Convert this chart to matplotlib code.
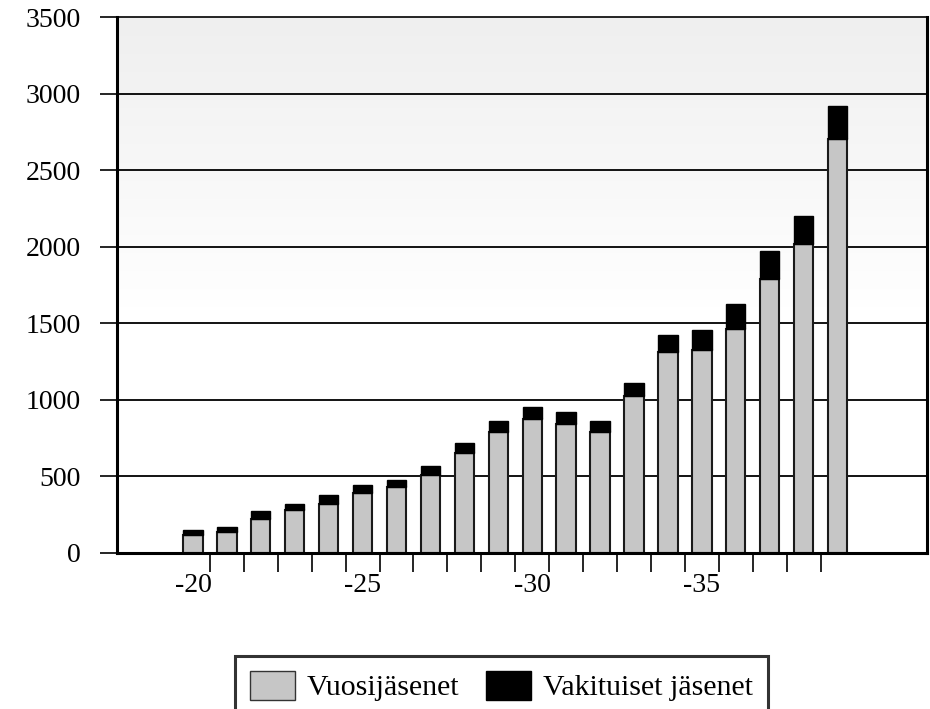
import numpy as np
import matplotlib
matplotlib.use("Agg")
import matplotlib.pyplot as plt
from matplotlib.patches import Patch

# Data (years 1920-1939)
years = list(range(20, 40))
vuosijasenet = [118, 134, 217, 278, 317, 391, 430, 508, 648, 789,
                873, 839, 791, 1026, 1313, 1321, 1460, 1789, 2017, 2701]
vakituiset = [27, 33, 54, 43, 58, 54, 48, 57, 69, 71,
              79, 78, 69, 80, 108, 131, 163, 184, 186, 217]
tick_labels = ["-20", "-25", "-30", "-35"]

plt.rcParams["font.family"] = ["Liberation Serif", "DejaVu Serif"]
plt.rcParams["font.size"] = 20

fig = plt.figure(figsize=(9.3, 7.09), dpi=100)
ax = fig.add_axes([0.1258, 0.2205, 0.8707, 0.7555])

x = np.arange(len(years))
xmin, xmax = -2.24, 21.63

# light gradient background at the top of the plot area
grad = np.linspace(0.0, 1.0, 256).reshape(-1, 1)
bg = matplotlib.colors.LinearSegmentedColormap.from_list("bg", ["#ffffff", "#efefef"])
ax.imshow(grad, extent=(xmin, xmax, 1600, 3500), aspect="auto",
          cmap=bg, zorder=0, origin="lower")

for y in range(500, 3500, 500):
    ax.axhline(y, color="black", lw=1.3, zorder=1)

ax.bar(x, vuosijasenet, width=0.57, color="#c6c6c6", edgecolor="#1a1a1a",
       linewidth=1.5, zorder=2)
ax.bar(x, vakituiset, width=0.57, bottom=vuosijasenet, color="black",
       edgecolor="black", linewidth=1.0, zorder=2)

ax.set_xlim(xmin, xmax)
ax.set_ylim(0, 3500)

ax.set_yticks(range(0, 3501, 500))
ax.tick_params(axis="y", direction="out", length=12, width=1.2, pad=14)

ax.set_xticks([0, 5, 10, 15])
ax.set_xticklabels(tick_labels)
ax.set_xticks(np.arange(0.5, 19, 1.0), minor=True)
ax.tick_params(axis="x", which="major", length=0, pad=15)
ax.tick_params(axis="x", which="minor", direction="out", length=14, width=1.2)

for side in ["left", "bottom", "right"]:
    ax.spines[side].set_linewidth(2.2)
ax.spines["top"].set_linewidth(1.2)

handles = [Patch(facecolor="#c6c6c6", edgecolor="#333333", label="Vuosijäsenet"),
           Patch(facecolor="black", edgecolor="black", label="Vakituiset jäsenet")]
leg = fig.legend(handles=handles, loc="upper center", bbox_to_anchor=(0.539, 0.0747),
                 ncol=2, frameon=True, fancybox=False, fontsize=21.5,
                 handlelength=1.5, handleheight=1.1, handletextpad=0.4,
                 columnspacing=0.9, borderpad=0.5, borderaxespad=0)
leg.get_frame().set_edgecolor("black")
leg.get_frame().set_linewidth(2.2)

fig.savefig("out.png", dpi=100)
